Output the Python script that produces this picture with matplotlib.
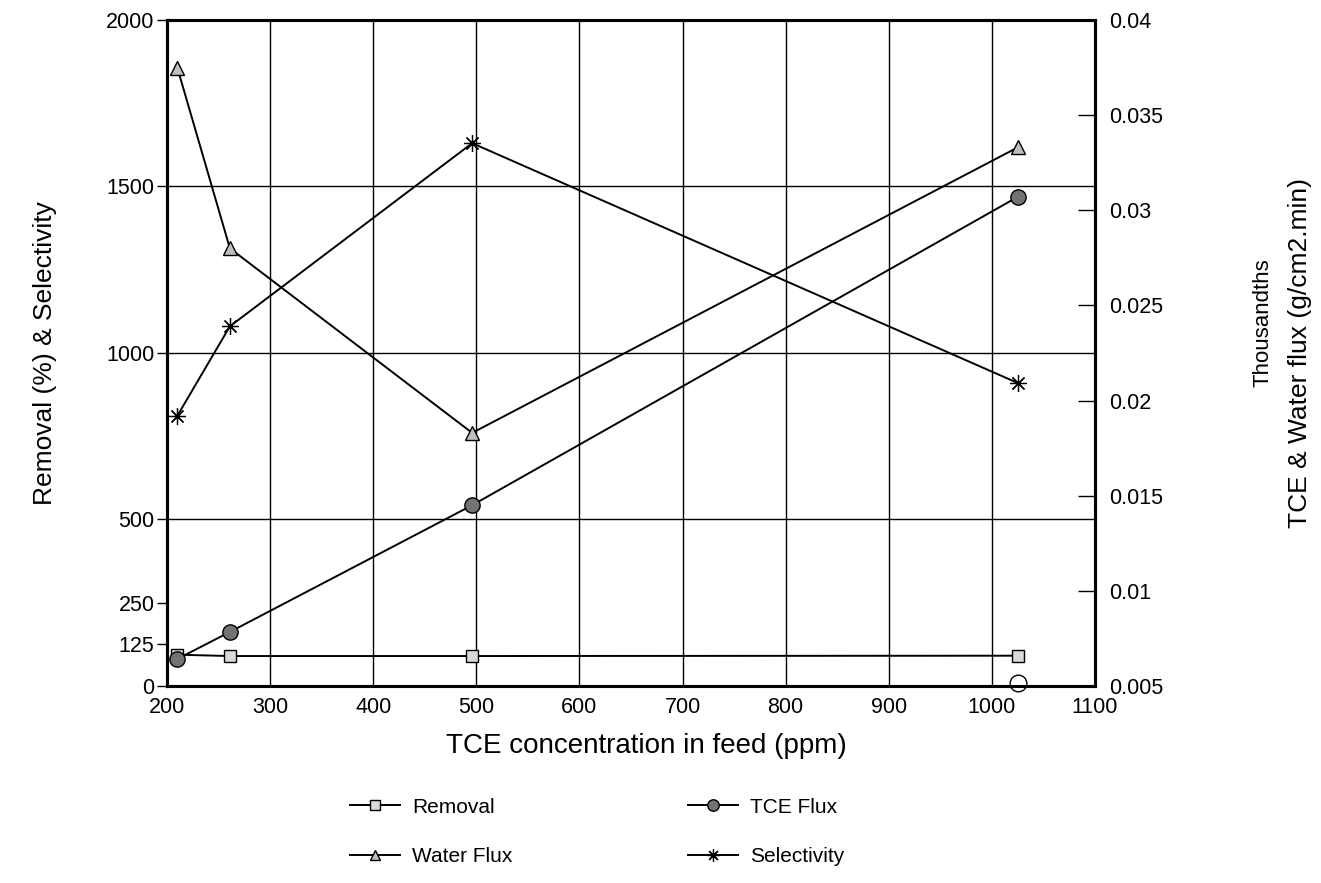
import numpy as np
import matplotlib
matplotlib.use("Agg")
import matplotlib.pyplot as plt
from matplotlib.ticker import FuncFormatter

plt.rcParams['font.family'] = ['Liberation Sans', 'DejaVu Sans']

# data
feed_ppm = [210, 261, 496, 1025]
removal = [94, 90, 90, 91]                # left axis
selectivity = [811, 1080, 1630, 910]      # left axis
tce_flux = [0.00642, 0.00784, 0.0145, 0.0307]     # right axis
water_flux = [0.0375, 0.0280, 0.0183, 0.0333]     # right axis
stray_x, stray_y = [1025], [0.00516]               # lone open circle at bottom

left_ticks = [0, 125, 250, 500, 1000, 1500, 2000]
left_grid = [500, 1000, 1500]
right_ticks = [0.005, 0.01, 0.015, 0.02, 0.025, 0.03, 0.035, 0.04]
x_ticks = [200, 300, 400, 500, 600, 700, 800, 900, 1000, 1100]

fig = plt.figure(figsize=(13.21, 8.83), dpi=100)
ax = fig.add_axes([0.1264, 0.2231, 0.7025, 0.7543])
ax2 = ax.twinx()

lw = 1.4
l1, = ax.plot(feed_ppm, removal, color='black', lw=lw, marker='s', ms=9,
              mfc='0.85', mec='black', mew=1.0, label='Removal')
l4, = ax.plot(feed_ppm, selectivity, color='black', lw=lw, marker=(8, 2, 0), ms=12,
              mec='black', mew=0.9, label='Selectivity')
l2, = ax2.plot(feed_ppm, tce_flux, color='black', lw=lw, marker='o', ms=11,
               mfc='0.45', mec='black', mew=1.0, label='TCE Flux')
l3, = ax2.plot(feed_ppm, water_flux, color='black', lw=lw, marker='^', ms=10,
               mfc='0.75', mec='black', mew=1.0, label='Water Flux')
ax2.plot(stray_x, stray_y, ls='none', marker='o', ms=12, mfc='white', mec='black',
         mew=1.0, clip_on=False)

ax.set_xlim(200, 1100)
ax.set_ylim(0, 2000)
ax2.set_ylim(0.005, 0.04)

ax.set_xticks(x_ticks)
ax.set_yticks(left_ticks)
ax2.set_yticks(right_ticks)
ax2.yaxis.set_major_formatter(FuncFormatter(lambda v, p: ('%.3f' % v).rstrip('0')))

ax.tick_params(axis='x', length=0, labelsize=15.5, pad=8)
ax.tick_params(axis='y', direction='out', length=7, width=1, labelsize=15.5, pad=2)
ax2.tick_params(axis='y', direction='in', length=12, width=1, labelsize=15.5, pad=10)

ax.grid(axis='x', color='black', lw=1.0)
for g in left_grid:
    ax.axhline(g, color='black', lw=1.0, zorder=0.5)
ax.set_axisbelow(True)

for a in (ax, ax2):
    for s in a.spines.values():
        s.set_linewidth(2.2)

fig.text(0.034, 0.6, 'Removal (%) & Selectivity', rotation=90, ha='center',
         va='center', fontsize=19)
fig.text(0.489, 0.155, 'TCE concentration in feed (ppm)', ha='center',
         va='center', fontsize=20)
fig.text(0.956, 0.635, 'Thousandths', rotation=90, ha='center', va='center',
         fontsize=16)
fig.text(0.984, 0.6, 'TCE & Water flux (g/cm2.min)', rotation=90, ha='center',
         va='center', fontsize=19)

fig.legend([l1, l3, l2, l4], ['Removal', 'Water Flux', 'TCE Flux', 'Selectivity'],
           ncol=2, loc='center', bbox_to_anchor=(0.452, 0.058), frameon=False,
           fontsize=15, handlelength=2.4, columnspacing=8.4, labelspacing=1.45,
           markerscale=0.75, handletextpad=0.6)

fig.savefig('out.png', dpi=100)
